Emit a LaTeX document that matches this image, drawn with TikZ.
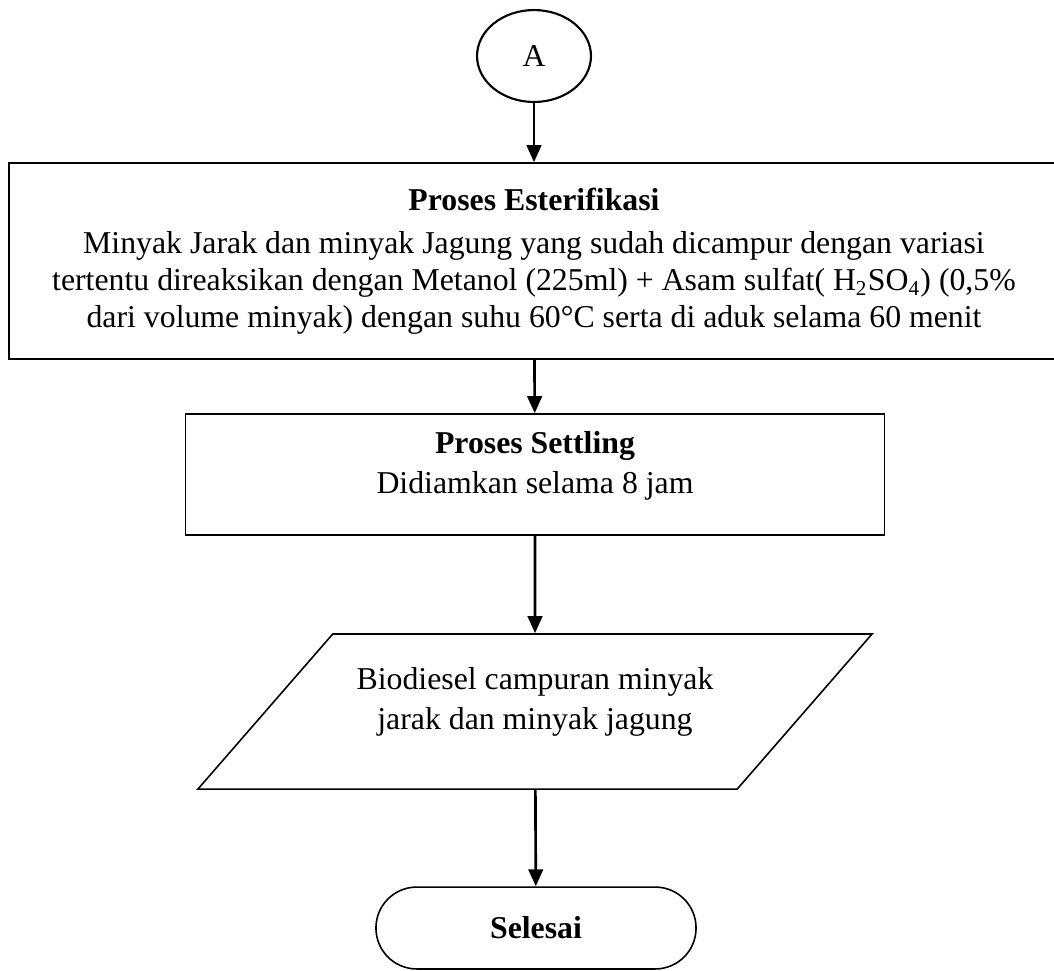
\documentclass[tikz,border=0pt]{standalone}
\usepackage{fontspec}
\setmainfont{Liberation Serif}
\usetikzlibrary{arrows.meta,shapes.geometric}

\begin{document}
\begin{tikzpicture}[x=0.3774pt, y=-0.3774pt,
    startnode/.style={draw, ellipse, line width=0.8pt, minimum width=43pt, minimum height=34.7pt, inner sep=0pt, font=\fontsize{12}{14}\selectfont},
    procbox/.style={draw, rectangle, line width=0.6pt, align=center, inner sep=0pt},
    databox/.style={draw, trapezium, trapezium left angle=49, trapezium right angle=131, trapezium stretches body=true, line width=0.6pt, align=center, inner xsep=0pt, inner ysep=12.7pt},
    endnode/.style={draw, rectangle, rounded corners=15.4pt, line width=0.6pt, minimum width=120.8pt, minimum height=30.9pt, font=\fontsize{12}{14}\selectfont\bfseries},
    flowarrow/.style={draw, line width=1pt, -{Triangle[length=6.4pt, width=5.5pt]}}]
  \useasboundingbox (0,0) rectangle (1054,970);
  \clip (0,0) rectangle (1054,970);
  \node[startnode] (mulai) at (534,56) {A};
  \node[procbox, minimum width=396.3pt, minimum height=74pt, font=\fontsize{12}{14}\selectfont] (esterif) at (534,261)
    {\textbf{Proses Esterifikasi}\\[2.2pt]
     Minyak Jarak dan minyak Jagung yang sudah dicampur dengan variasi\\
     tertentu direaksikan dengan Metanol (225ml) + Asam sulfat( H\textsubscript{2}SO\textsubscript{4}) (0,5\%\\
     dari volume minyak) dengan suhu 60°C serta di aduk selama 60 menit};
  \node[procbox, minimum width=263.8pt, minimum height=45.7pt, font=\fontsize{12}{15.1}\selectfont] (settling) at (535,474.5)
    {\textbf{Proses Settling}\\
     Didiamkan selama 8 jam\rule[-9.4pt]{0pt}{0pt}};
  \node[databox, minimum width=254.4pt, minimum height=58.5pt, font=\fontsize{12}{15}\selectfont] (hasil) at (535,711.5)
    {Biodiesel campuran minyak\\
     jarak dan minyak jagung\rule[-9.8pt]{0pt}{0pt}};
  \node[endnode] (selesai) at (536,928) {Selesai};
  \draw[flowarrow] (mulai) -- (esterif);
  \draw[flowarrow] (esterif) -- (settling);
  \draw[flowarrow] (settling) -- (hasil);
  \draw[flowarrow] (hasil) -- (selesai);
\end{tikzpicture}
\end{document}
